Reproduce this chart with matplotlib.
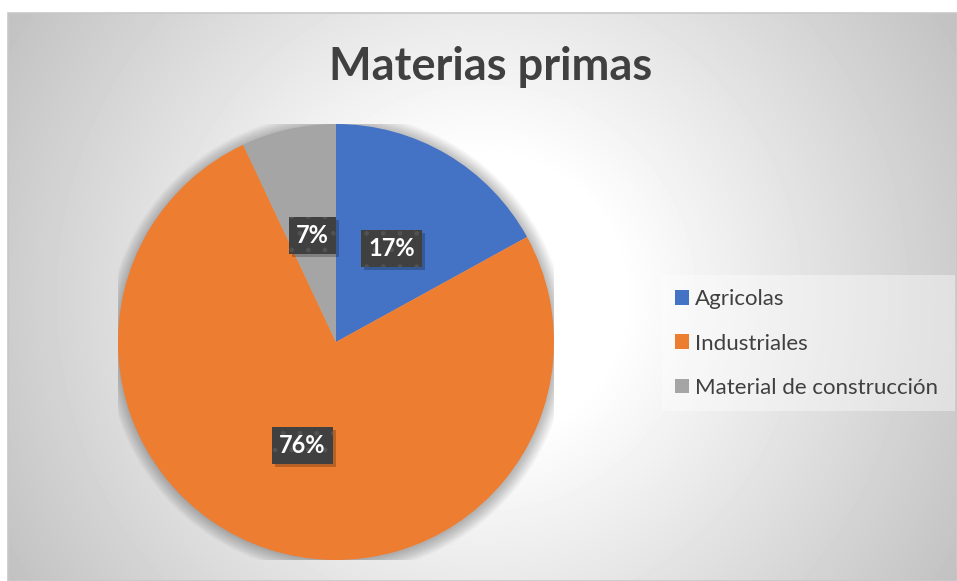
import numpy as np
import matplotlib
matplotlib.use("Agg")
from matplotlib import pyplot as plt
from matplotlib.patches import Circle, Rectangle

plt.rcParams['font.family'] = ['Lato', 'DejaVu Sans']

categorias = ['Agricolas', 'Industriales', 'Material de construcción']
valores = [17, 76, 7]
colores = ['#4472C4', '#ED7D31', '#A5A5A5']
titulo = 'Materias primas'

W, H = 957, 581
fig = plt.figure(figsize=(W / 100, H / 100), dpi=100)
fig.patch.set_facecolor('white')

# fondo con degradado radial (zona del grafico)
x0, y0 = 8, 13
bw, bh = W - x0, H - y0
bg = fig.add_axes([x0 / W, 0, bw / W, bh / H])
yy, xx = np.mgrid[0:bh, 0:bw]
r = np.hypot(xx - (482 - x0), yy - (297 - y0))
g = 255 - 0.15 * np.clip(r - 140, 0, None)
g = np.clip(g, 0, 255) / 255
bg.imshow(g, cmap='gray', vmin=0, vmax=1, aspect='auto', interpolation='bilinear')
bg.set_axis_off()
fig.patches.append(Rectangle((x0 / W, 0), bw / W, bh / H, transform=fig.transFigure,
                             fill=False, edgecolor='#c8c8c8', lw=1.2, zorder=5))

# pie
cx, cy, R = 336, 342, 218
ax = fig.add_axes([(cx - R) / W, (H - cy - R) / H, 2 * R / W, 2 * R / H])
for i in range(14):
    ax.add_patch(Circle((0.004, -0.006), 1 + i * 0.0045, color='black', alpha=0.018, lw=0, zorder=0))

wedges, texts, autotexts = ax.pie(valores, colors=colores, startangle=90, counterclock=False,
                                  autopct='%1.0f%%', pctdistance=0.5, radius=1,
                                  wedgeprops=dict(linewidth=0),
                                  textprops=dict(color='white', fontsize=17, fontweight='bold'))
ax.set_xlim(-1, 1)
ax.set_ylim(-1, 1)
for t in autotexts:
    t.set_bbox(dict(boxstyle='square,pad=0.3', facecolor='#404040', edgecolor='#525252',
                    lw=0, hatch='.'))
    t.set_zorder(4)

# titulo
fig.text(491 / W, 1 - 80 / H, titulo, ha='center', va='baseline', fontsize=32.5,
         fontweight='bold', color='#404040')

# leyenda
fig.patches.append(Rectangle((662 / W, 1 - 411 / H), (955 - 662) / W, (411 - 275) / H,
                             transform=fig.transFigure, facecolor='white', alpha=0.4, lw=0))
leg = fig.legend(wedges, categorias, loc='center left', bbox_to_anchor=(675 / W, 1 - 343.5 / H),
                 fontsize=16, frameon=False, borderaxespad=0, borderpad=0,
                 handlelength=0.63, handleheight=0.63, handletextpad=0.27, labelspacing=1.1)
for txt in leg.get_texts():
    txt.set_color('#404040')

# sombras de las etiquetas
fig.canvas.draw()
for t in autotexts:
    bb = t.get_bbox_patch().get_window_extent()
    ax.add_patch(Rectangle((bb.x0 + 3, bb.y0 - 3), bb.width, bb.height, transform=None,
                           facecolor='black', alpha=0.22, lw=0, zorder=3))

fig.savefig('out.png', dpi=100)
